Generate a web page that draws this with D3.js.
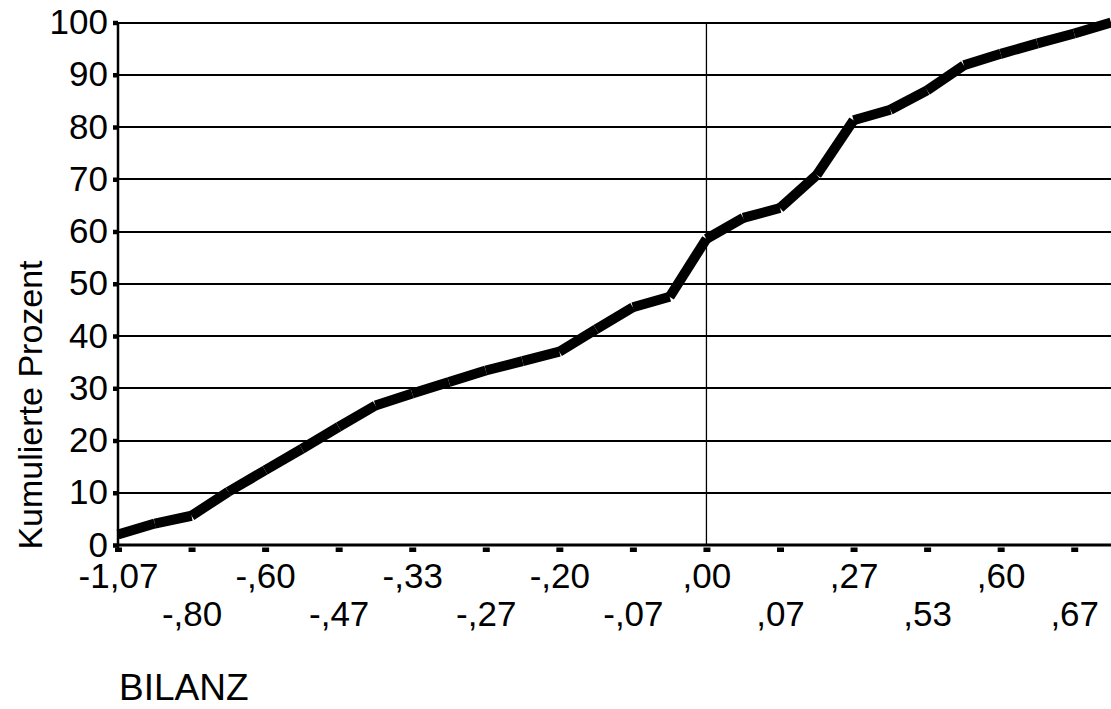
<!DOCTYPE html>
<html>
<head>
<meta charset="utf-8">
<script src="https://cdn.jsdelivr.net/npm/d3@7"></script>
<style>
  html, body { margin: 0; padding: 0; background: #fff; }
  svg { display: block; font-family: "Liberation Sans", Arial, sans-serif; }
</style>
</head>
<body>
<svg id="chart" width="1111" height="709"></svg>
<script>
// Cumulative percent for each BILANZ category (28 categories, in order)
const cumPercent = [
  2.0, 4.1, 5.6, 10.2, 14.3, 18.4, 22.6, 26.7,
  29.0, 31.2, 33.4, 35.2, 37.0, 41.3, 45.5, 47.5,
  58.6, 62.6, 64.5, 70.8, 81.3, 83.3, 87.0, 91.8,
  94.0, 96.0, 97.9, 100
];
// Labels shown at every second category
const tickLabels = [
  "-1,07", "-,80", "-,60", "-,47", "-,33", "-,27", "-,20",
  "-,07", ",00", ",07", ",27", ",53", ",60", ",67"
];
const yTicks = [0, 10, 20, 30, 40, 50, 60, 70, 80, 90, 100];
const zeroLabel = ",00";

const svg = d3.select("#chart");
const plot = { left: 118, right: 1111, top: 22.5, bottom: 545 };
const fontFamily = "'Liberation Sans', Arial, sans-serif";

const categories = d3.range(cumPercent.length);
const x = d3.scalePoint().domain(categories).range([plot.left, plot.right]);
const y = d3.scaleLinear().domain([0, 100]).range([plot.bottom, plot.top]);

const labeledIdx = tickLabels.map((_, k) => k * 2);

// horizontal gridlines
svg.append("g")
  .selectAll("line")
  .data(yTicks.filter(d => d > 0))
  .join("line")
  .attr("x1", plot.left).attr("x2", plot.right)
  .attr("y1", d => Math.round(y(d))).attr("y2", d => Math.round(y(d)))
  .attr("stroke", "#000").attr("stroke-width", 2);

// reference line at BILANZ = ,00
const zeroIdx = labeledIdx[tickLabels.indexOf(zeroLabel)];
svg.append("line")
  .attr("x1", x(zeroIdx)).attr("x2", x(zeroIdx))
  .attr("y1", plot.top).attr("y2", plot.bottom)
  .attr("stroke", "#000").attr("stroke-width", 1.3);

// y axis
const yAxis = svg.append("g")
  .attr("transform", `translate(${plot.left},0)`)
  .call(d3.axisLeft(y).tickValues(yTicks).tickSize(5).tickPadding(5));
yAxis.select(".domain").attr("stroke", "#000").attr("stroke-width", 2.5)
  .attr("d", `M0,${plot.top}V${plot.bottom + 7}`);
yAxis.selectAll(".tick line").attr("stroke", "#000").attr("stroke-width", 4.5);
yAxis.selectAll(".tick text")
  .attr("font-size", 35).attr("fill", "#000")
  .attr("font-family", fontFamily);

// x axis
const xAxis = svg.append("g")
  .attr("transform", `translate(0,${plot.bottom})`)
  .call(d3.axisBottom(x).tickValues(labeledIdx).tickSize(7).tickPadding(0)
    .tickFormat(d => tickLabels[d / 2]));
xAxis.select(".domain").attr("stroke", "#000").attr("stroke-width", 3)
  .attr("d", `M${plot.left},0H${plot.right}`);
xAxis.selectAll(".tick line").attr("stroke", "#000").attr("stroke-width", 7)
  .attr("y1", 2.5).attr("y2", 7);
xAxis.selectAll(".tick text")
  .attr("font-size", 35).attr("fill", "#000")
  .attr("font-family", fontFamily)
  .attr("dy", null)
  .attr("dominant-baseline", "central")
  .attr("y", d => (d / 2) % 2 === 0 ? 30 : 68);

// cumulative line, drawn as butt-capped segments
const segs = d3.pairs(categories);
svg.append("g")
  .selectAll("line")
  .data(segs)
  .join("line")
  .attr("x1", d => x(d[0])).attr("y1", d => y(cumPercent[d[0]]))
  .attr("x2", d => x(d[1])).attr("y2", d => y(cumPercent[d[1]]))
  .attr("stroke", "#000").attr("stroke-width", 10).attr("stroke-linecap", "butt");

// axis titles
svg.append("text")
  .attr("transform", `translate(30,405) rotate(-90)`)
  .attr("text-anchor", "middle")
  .attr("dominant-baseline", "central")
  .attr("font-size", 34).attr("fill", "#000")
  .attr("font-family", fontFamily)
  .text("Kumulierte Prozent");

svg.append("text")
  .attr("x", 119).attr("y", 700)
  .attr("font-size", 37).attr("fill", "#000")
  .attr("font-family", fontFamily)
  .text("BILANZ");
</script>
</body>
</html>
